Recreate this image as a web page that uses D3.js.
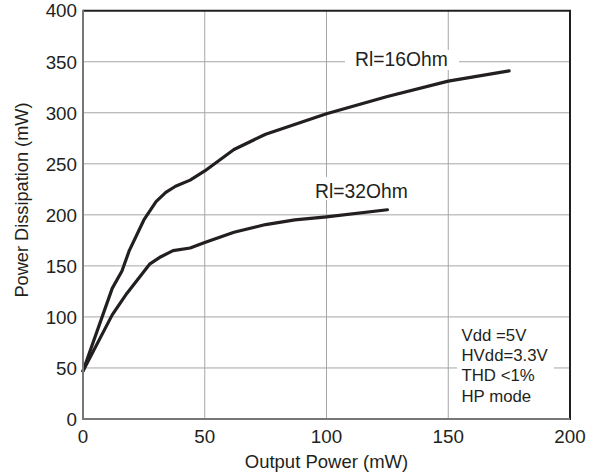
<!DOCTYPE html>
<html>
<head>
<meta charset="utf-8">
<script src="https://cdn.jsdelivr.net/npm/d3@7"></script>
<style>
  html, body { margin: 0; padding: 0; background: #fff; }
  svg { display: block; font-family: "Liberation Sans", Arial, Helvetica, sans-serif; }
</style>
</head>
<body>
<svg id="chart" width="596" height="475"></svg>
<script>
// ---- data ----
const xTicks = [0, 50, 100, 150, 200];
const yTicks = [0, 50, 100, 150, 200, 250, 300, 350, 400];

const rl16X = [0, 12, 16, 19, 25, 30, 34, 38, 44, 50, 62, 75, 100, 125, 150, 175];
const rl16Y = [47, 128, 145, 165, 195, 213, 222, 228, 234, 243, 264, 279, 299, 316, 331, 341];

const rl32X = [0, 12, 18, 27.5, 32, 37, 44, 50, 62, 75, 87, 100, 125];
const rl32Y = [47, 102, 123, 152, 159, 165, 167.5, 173, 183, 190.5, 195, 198, 205];

const seriesNames = ["Rl=16Ohm", "Rl=32Ohm"];
const noteLines = ["Vdd =5V", "HVdd=3.3V", "THD <1%", "HP mode"];
const xTitle = "Output Power (mW)";
const yTitle = "Power Dissipation (mW)";

// ---- layout ----
const svg = d3.select("#chart");
const pL = 83, pR = 570, pT = 10.7, pB = 419;
const x = d3.scaleLinear().domain([0, 200]).range([pL, pR]);
const y = d3.scaleLinear().domain([0, 400]).range([pB, pT]);

// gridlines
svg.append("g").selectAll("line").data(xTicks.slice(1, -1)).join("line")
  .attr("x1", d => x(d)).attr("x2", d => x(d))
  .attr("y1", pT).attr("y2", pB)
  .attr("stroke", "#a6a6a6").attr("stroke-width", 1);
svg.append("g").selectAll("line").data(yTicks.slice(1, -1)).join("line")
  .attr("x1", pL).attr("x2", pR)
  .attr("y1", d => y(d)).attr("y2", d => y(d))
  .attr("stroke", "#a6a6a6").attr("stroke-width", 1);

// white label backgrounds (break gridlines)
svg.append("rect").attr("x", 345).attr("y", 50).attr("width", 114).attr("height", 20).attr("fill", "#fff");
svg.append("rect").attr("x", 312).attr("y", 177).attr("width", 98).attr("height", 23).attr("fill", "#fff");
svg.append("rect").attr("x", 457).attr("y", 323).attr("width", 97).attr("height", 86).attr("fill", "#fff");

// curves
const line = d3.line().x(d => x(d[0])).y(d => y(d[1])).curve(d3.curveLinear);
const s16 = rl16X.map((v, i) => [v, rl16Y[i]]);
const s32 = rl32X.map((v, i) => [v, rl32Y[i]]);
[s16, s32].forEach(s => {
  svg.append("path").datum(s).attr("d", line)
    .attr("fill", "none").attr("stroke", "#231f20")
    .attr("stroke-width", 3.2).attr("stroke-linejoin", "round").attr("stroke-linecap", "round");
});

// series labels
svg.append("text").attr("x", 355).attr("y", 65.7).attr("font-size", 19.3).attr("fill", "#231f20").text(seriesNames[0]);
svg.append("text").attr("x", 315).attr("y", 197.7).attr("font-size", 19.3).attr("fill", "#231f20").text(seriesNames[1]);

// note
svg.append("g").selectAll("text").data(noteLines).join("text")
  .attr("x", 461.5).attr("y", (d, i) => 340.7 + i * 20.3)
  .attr("font-size", 16.8).attr("fill", "#231f20").text(d => d);

// frame: top & right dark, left & bottom gray
svg.append("line").attr("x1", pL).attr("x2", pR + 1).attr("y1", pT).attr("y2", pT).attr("stroke", "#231f20").attr("stroke-width", 2);
svg.append("line").attr("x1", pR).attr("x2", pR).attr("y1", pT).attr("y2", pB + 1).attr("stroke", "#231f20").attr("stroke-width", 2);
svg.append("line").attr("x1", pL).attr("x2", pL).attr("y1", pT - 1).attr("y2", pB + 1).attr("stroke", "#777").attr("stroke-width", 2);
svg.append("line").attr("x1", pL - 1).attr("x2", pR).attr("y1", pB).attr("y2", pB).attr("stroke", "#777").attr("stroke-width", 2);

// tick labels
svg.append("g").selectAll("text").data(xTicks).join("text")
  .attr("x", d => x(d)).attr("y", 443).attr("text-anchor", "middle")
  .attr("font-size", 18.8).attr("fill", "#231f20").text(d => d);
svg.append("g").selectAll("text").data(yTicks).join("text")
  .attr("x", 77).attr("y", d => y(d)).attr("dy", "0.36em").attr("text-anchor", "end")
  .attr("font-size", 18.8).attr("fill", "#231f20").text(d => d);

// axis titles
svg.append("text").attr("x", (pL + pR) / 2).attr("y", 468).attr("text-anchor", "middle")
  .attr("font-size", 18.5).attr("fill", "#231f20").text(xTitle);
svg.append("text").attr("transform", "translate(28,200) rotate(-90)").attr("text-anchor", "middle")
  .attr("font-size", 18.2).attr("fill", "#231f20").text(yTitle);
</script>
</body>
</html>
